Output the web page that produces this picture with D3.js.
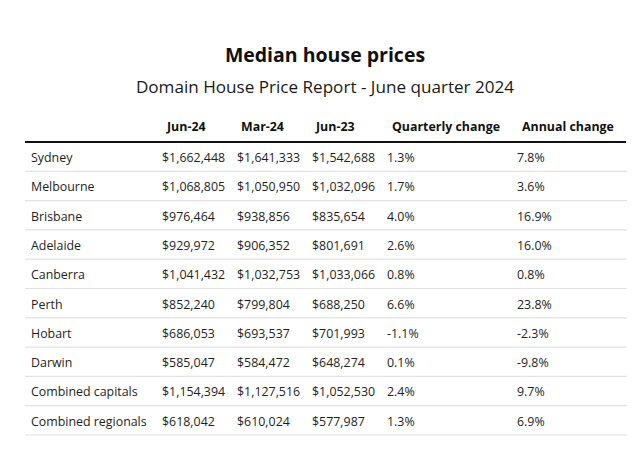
<!DOCTYPE html>
<html><head><meta charset="utf-8">
<script src="https://cdn.jsdelivr.net/npm/d3@7"></script>
<style>
html,body{margin:0;padding:0;background:#fff;}
svg{display:block;font-family:"Open Sans","Noto Sans",sans-serif;}
</style></head>
<body><svg id="chart" width="638" height="455"></svg>
<script>
const title = "Median house prices";
const subtitle = "Domain House Price Report - June quarter 2024";
const columns = ["", "Jun-24", "Mar-24", "Jun-23", "Quarterly change", "Annual change"];
const cities = ["Sydney","Melbourne","Brisbane","Adelaide","Canberra","Perth","Hobart","Darwin","Combined capitals","Combined regionals"];
const jun24 = [1662448,1068805,976464,929972,1041432,852240,686053,585047,1154394,618042];
const mar24 = [1641333,1050950,938856,906352,1032753,799804,693537,584472,1127516,610024];
const jun23 = [1542688,1032096,835654,801691,1033066,688250,701993,648274,1052530,577987];
const quarterly = [1.3,1.7,4.0,2.6,0.8,6.6,-1.1,0.1,2.4,1.3];
const annual = [7.8,3.6,16.9,16.0,0.8,23.8,-2.3,-9.8,9.7,6.9];

const svg = d3.select("#chart");
const money = d3.format("$,");
const pct = v => v.toFixed(1) + "%";

// layout
const tLeft = 25, tRight = 626, tTop = 142, tBottom = 435;
const colStart = [31, 162, 237, 312, 387, 517];
const headOffset = [0, 5, 4, 4, 5, 5];
const x = d3.scaleOrdinal().domain(columns.map((c,i)=>i)).range(colStart);
const y = d3.scaleBand().domain(cities).range([tTop, tBottom]).paddingInner(0).paddingOuter(0);

svg.append("text").attr("x", 325).attr("y", 62).attr("text-anchor","middle")
  .attr("font-weight","700").attr("font-size", 19.5).attr("fill","#111").text(title);
svg.append("text").attr("x", 325).attr("y", 93).attr("text-anchor","middle")
  .attr("font-size", 17.1).attr("fill","#1a1a1a").text(subtitle);

// header
svg.append("g").selectAll("text").data(columns).join("text")
  .attr("x", (d,i)=>x(i)+headOffset[i]).attr("y", 131)
  .attr("font-weight","700").attr("font-size", 12.4).attr("fill","#111").text(d=>d);

svg.append("line").attr("x1", tLeft).attr("x2", tRight).attr("y1", tTop).attr("y2", tTop)
  .attr("stroke","#111").attr("stroke-width", 2.2);

const rows = cities.map((c,i)=>[c, money(jun24[i]), money(mar24[i]), money(jun23[i]), pct(quarterly[i]), pct(annual[i])]);

const g = svg.append("g").selectAll("g").data(rows).join("g")
  .attr("transform", (d,i)=>`translate(0,${y(cities[i])})`);
g.append("line").attr("x1", tLeft).attr("x2", tRight+1)
  .attr("y1", y.bandwidth()).attr("y2", y.bandwidth()).attr("stroke","#e2e2e2").attr("stroke-width",1.2);
g.selectAll("text").data(d=>d).join("text")
  .attr("x",(d,i)=>x(i)).attr("y", y.bandwidth()/2 + 5.4)
  .attr("font-size", 12.4).attr("fill","#1e1e1e").text(d=>d);
</script></body></html>
